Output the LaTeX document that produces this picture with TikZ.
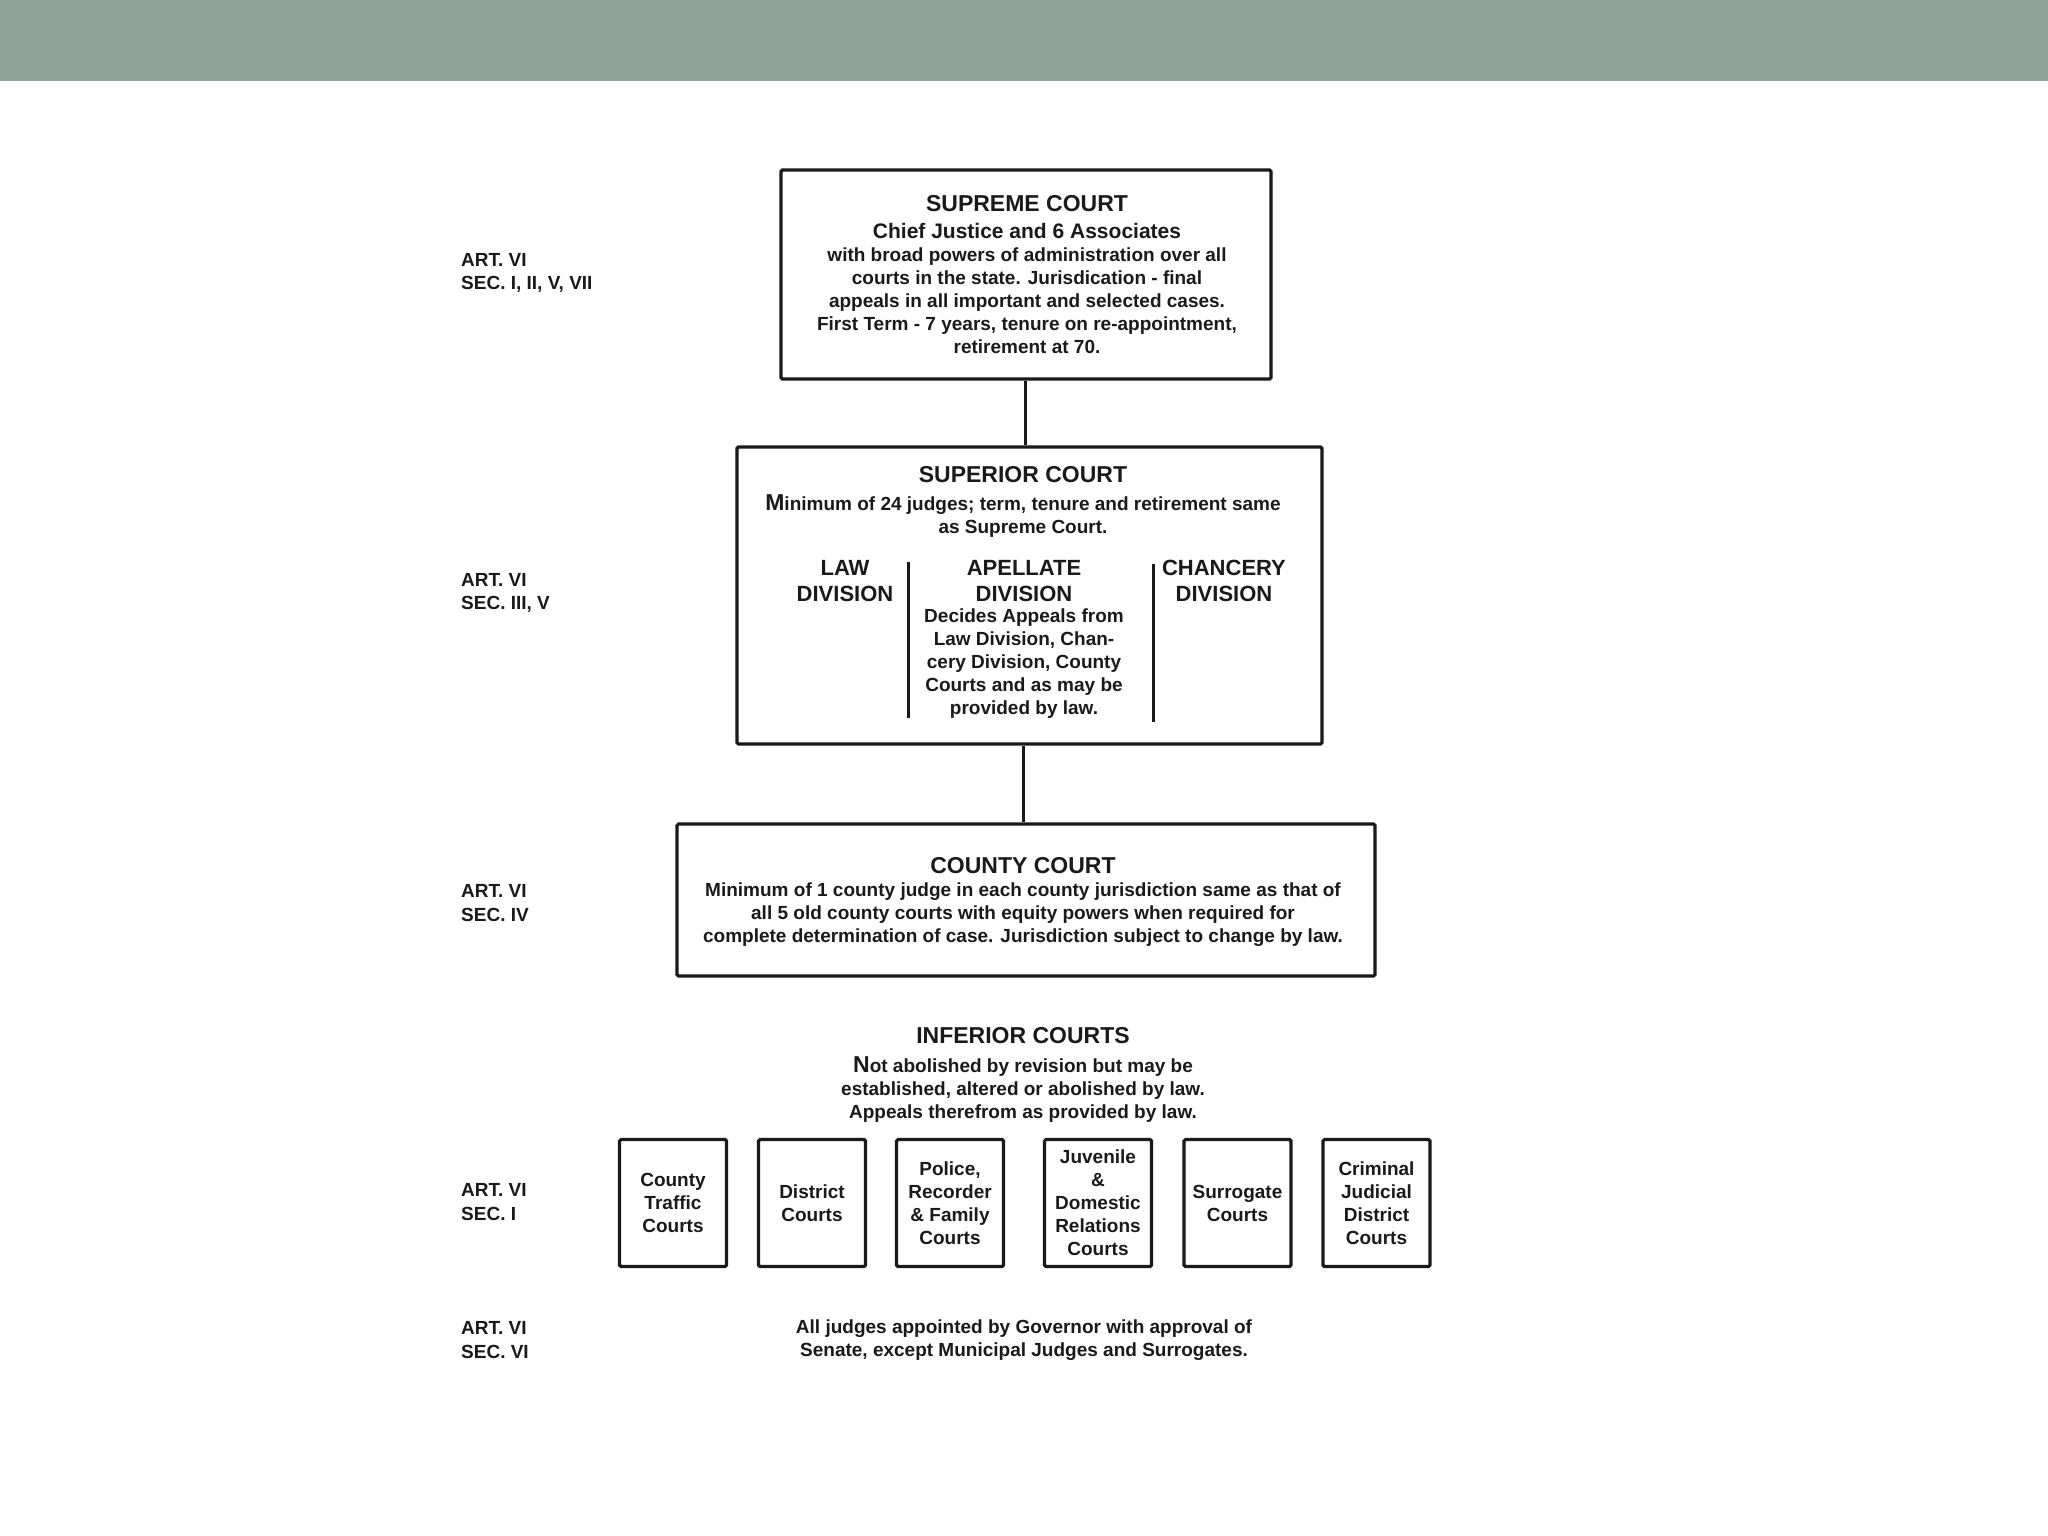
\documentclass[tikz,border=0pt]{standalone}
\usepackage{fontspec}
\setmainfont{Liberation Sans}
\definecolor{band}{HTML}{91A29A}
\definecolor{ink}{HTML}{1A1A1A}
\begin{document}
\begin{tikzpicture}[x=1pt,y=-1pt,
  courtbox/.style={draw=ink, line width=3.2pt, rounded corners=1.5pt, inner sep=0pt},
  smallbox/.style={courtbox, minimum width=107pt, minimum height=127pt},
  title/.style={inner sep=0pt, text=ink, font=\bfseries\fontsize{23}{26}\selectfont},
  subtitle/.style={inner sep=0pt, text=ink, font=\bfseries\fontsize{21}{24}\selectfont},
  body/.style={inner sep=0pt, text=ink, align=center, font=\bfseries\fontsize{19}{23}\selectfont},
  divtitle/.style={inner sep=0pt, text=ink, align=center, font=\bfseries\fontsize{22}{25.5}\selectfont},
  artlbl/.style={inner sep=0pt, text=ink, align=left, anchor=west, font=\bfseries\fontsize{19}{23.5}\selectfont},
  link/.style={draw=ink, line width=3pt},
  divider/.style={draw=ink, line width=3pt}
]
\useasboundingbox (0,0) rectangle (2048,1536);
\fill[white] (0,0) rectangle (2048,1536);
\fill[band] (0,0) rectangle (2048,81);

% Supreme court
\node[courtbox, minimum width=490pt, minimum height=209pt] (sup) at (1026,274.5) {};
\node[title] (supT) at (1027,204) {SUPREME COURT};
\node[subtitle] (supS) at (1027,231) {Chief Justice and 6 Associates};
\node[body] (supB) at (1027,301) {with broad powers of administration over all\\courts in the state. Jurisdication - final\\appeals in all important and selected cases.\\First Term - 7 years, tenure on re-appointment,\\retirement at 70.};

% Superior court
\node[courtbox, minimum width=585pt, minimum height=297pt] (supr) at (1029.5,595.5) {};
\node[title] (suprT) at (1023,475) {SUPERIOR COURT};
\node[body] (suprB) at (1023,516) {{\fontsize{23}{23}\selectfont M}inimum of 24 judges; term, tenure and retirement same\\as Supreme Court.};
\node[divtitle] (law) at (845,581) {LAW\\DIVISION};
\node[divtitle] (apel) at (1024,581) {APELLATE\\DIVISION};
\node[body] (apelB) at (1024,664) {Decides Appeals from\\Law Division, Chan-\\cery Division, County\\Courts and as may be\\provided by law.};
\node[divtitle] (chan) at (1224,581) {CHANCERY\\DIVISION};
\draw[divider] (908,562) -- (908,718);
\draw[divider] (1153,564) -- (1153,722);

% County court
\node[courtbox, minimum width=698pt, minimum height=152pt] (cty) at (1026,900) {};
\node[title] (ctyT) at (1023,866) {COUNTY COURT};
\node[body] (ctyB) at (1023,915) {Minimum of 1 county judge in each county jurisdiction same as that of\\all 5 old county courts with equity powers when required for\\complete determination of case. Jurisdiction subject to change by law.};

% connectors
\draw[link] (sup.south -| 1025,0) -- (supr.north -| 1025,0);
\draw[link] (supr.south -| 1023,0) -- (cty.north -| 1023,0);

% Inferior courts
\node[title] (infT) at (1023,1036) {INFERIOR COURTS};
\node[body] (infB) at (1023,1090) {{\fontsize{23}{23}\selectfont N}ot abolished by revision but may be\\established, altered or abolished by law.\\Appeals therefrom as provided by law.};

\node[smallbox] (c1) at (673,1203) {};
\node[body] at (c1.center) {County\\Traffic\\Courts};
\node[smallbox] (c2) at (812,1203) {};
\node[body] at (c2.center) {District\\Courts};
\node[smallbox] (c3) at (950,1203) {};
\node[body] at (c3.center) {Police,\\Recorder\\\& Family\\Courts};
\node[smallbox] (c4) at (1098,1203) {};
\node[body] at (c4.center) {Juvenile\\\&\\Domestic\\Relations\\Courts};
\node[smallbox] (c5) at (1237.5,1203) {};
\node[body] at (c5.center) {Surrogate\\Courts};
\node[smallbox] (c6) at (1376.5,1203) {};
\node[body] at (c6.center) {Criminal\\Judicial\\District\\Courts};

% bottom note
\node[body] (note) at (1024,1340) {All judges appointed by Governor with approval of\\Senate, except Municipal Judges and Surrogates.};

% article labels
\node[artlbl] (a1) at (461,273) {ART. VI\\SEC. I, II, V, VII};
\node[artlbl] (a2) at (461,593) {ART. VI\\SEC. III, V};
\node[artlbl] (a3) at (461,903) {ART. VI\\SEC. IV};
\node[artlbl] (a4) at (461,1202) {ART. VI\\SEC. I};
\node[artlbl] (a5) at (461,1340) {ART. VI\\SEC. VI};
\end{tikzpicture}
\end{document}
